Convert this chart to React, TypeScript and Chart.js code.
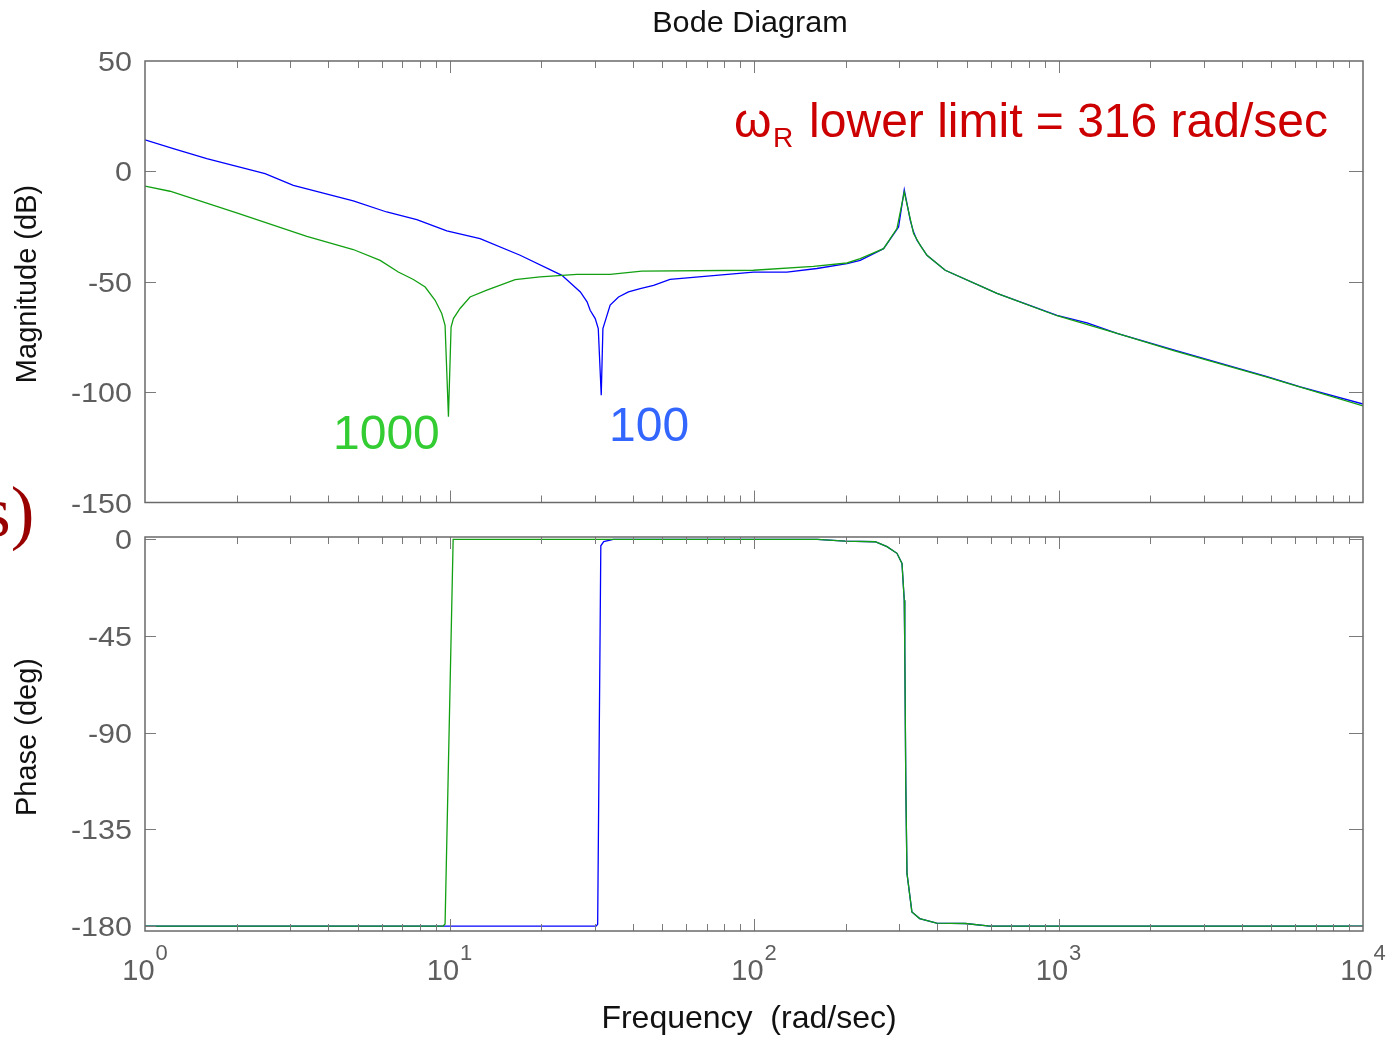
import React, { useEffect, useRef } from "react";
import { Chart, registerables } from "chart.js";

Chart.register(...registerables);

const W = 1395;
const H = 1037;
const FONT = '"Liberation Sans", Arial, Helvetica, sans-serif';
const BLUE = "#0000ff";
const GREEN = "#12a012";

// ---- Magnitude (dB) vs frequency (rad/sec) ----
const magFreq100 = [1, 1.239, 1.595, 2.479, 3.07, 4.83, 6.22, 7.81, 9.8, 12.6, 17.06, 23.4, 26.9, 28.3, 28.97, 30.1, 30.8, 31.5, 31.9, 33.7, 35.9, 38.7, 42.3, 46.8, 53.0, 99.6, 128.3, 160.9, 202, 223.3, 266.4, 298.4, 311.5, 326, 334.2, 342.9, 369.8, 424.6, 628, 988.6, 1241, 1557, 2388, 4840, 6223, 10000];
const mag100 = [14.3, 10.3, 5.8, -1.0, -6.3, -13.4, -18.4, -21.9, -27.0, -30.5, -38.0, -47.1, -54.6, -59.1, -62.9, -66.7, -71.2, -101.4, -71.2, -60.6, -56.9, -54.6, -53.1, -51.6, -48.9, -45.6, -45.6, -44.0, -41.8, -40.3, -35.0, -25.2, -8.3, -22.2, -27.5, -31.2, -38.0, -44.8, -55.3, -65.2, -68.6, -73.4, -80.9, -93.0, -97.6, -105.4];

const magFreq1000 = [1, 1.208, 2.0, 3.4, 4.83, 5.92, 6.79, 7.61, 8.32, 8.97, 9.43, 9.67, 9.92, 10.12, 10.3, 10.83, 11.68, 13.26, 16.43, 19.84, 26.2, 33.7, 42.8, 99.6, 156.8, 202, 223.3, 266.4, 294.7, 311.5, 334.2, 351.6, 369.8, 424.6, 628, 988.6, 1557, 2388, 4840, 10000];
const mag1000 = [-6.7, -9.0, -18.8, -29.4, -35.4, -40.3, -45.6, -49.0, -52.4, -58.4, -64.4, -69.7, -111.2, -70.5, -66.7, -62.1, -56.9, -53.8, -49.0, -47.8, -46.7, -46.7, -45.2, -44.8, -43.0, -41.5, -39.5, -35.0, -25.9, -9.4, -28.2, -33.5, -38.0, -44.8, -55.3, -65.4, -73.4, -81.2, -93.2, -106.2];

// ---- Phase (deg) vs frequency (rad/sec) ----
const phaseFreq100 = [1, 30.3, 30.66, 31.4, 32.1, 34.5, 161.3, 199.3, 250, 273.4, 294.8, 306.2, 311.5, 312.7, 315.2, 318, 330, 350, 398, 494, 595, 10000];
const phase100 = [-180, -180, -179.2, -3, -1, 0, 0, -0.8, -1.1, -3.4, -6.5, -11.2, -28.3, -50, -115, -155.5, -173.4, -176.5, -178.6, -178.8, -180, -180];

const phaseFreq1000 = [1, 9.53, 9.67, 10.28, 161.3, 199.3, 250, 273.4, 294.8, 306.2, 311.5, 312.7, 315.2, 318, 330, 350, 398, 494, 595, 10000];
const phase1000 = [-180, -180, -179, 0, 0, -0.8, -1.1, -3.4, -6.5, -11.2, -28.3, -50, -115, -155.5, -173.4, -176.5, -178.6, -178.8, -180, -180];

// ---- Axis ticks ----
const decades = [0, 1, 2, 3, 4];
const magTicks = [50, 0, -50, -100, -150];
const phaseTicks = [0, -45, -90, -135, -180];

const pts = (xs: number[], ys: number[]) => xs.map((x, i) => ({ x, y: ys[i] }));

function drawText(
  ctx: CanvasRenderingContext2D,
  s: string,
  x: number,
  y: number,
  size: number,
  color: string,
  align: CanvasTextAlign = "left",
  sx = 1
) {
  ctx.save();
  ctx.font = `${size}px ${FONT}`;
  ctx.fillStyle = color;
  ctx.textAlign = align;
  ctx.textBaseline = "alphabetic";
  ctx.translate(x, y);
  ctx.scale(sx, 1);
  ctx.fillText(s, 0, 0);
  ctx.restore();
}

function makeAxesPlugin(kind: "mag" | "phase") {
  return {
    id: "axes_" + kind,
    afterDatasetsDraw(chart: any) {
      const { ctx, chartArea: a, scales } = chart;
      const xs = scales.x;
      const ys = scales.y;
      ctx.save();
      // x ticks (top & bottom, inward)
      ctx.lineWidth = 1;
      ctx.strokeStyle = "#7a7a7a";
      ctx.beginPath();
      for (let d = 0; d < 4; d++) {
        for (let k = 1; k <= 9; k++) {
          if (d === 0 && k === 1) continue;
          const px = Math.round(xs.getPixelForValue(k * Math.pow(10, d))) + 0.5;
          const len = k === 1 ? 12 : 7;
          ctx.moveTo(px, a.top);
          ctx.lineTo(px, a.top + len);
          ctx.moveTo(px, a.bottom);
          ctx.lineTo(px, a.bottom - len);
        }
      }
      // y ticks (left & right, inward)
      const yt = kind === "mag" ? magTicks : phaseTicks;
      for (const v of yt) {
        const py = Math.round(ys.getPixelForValue(v)) + 0.5;
        if (Math.abs(py - a.top) < 1.5 || Math.abs(py - a.bottom) < 1.5) continue;
        ctx.moveTo(a.left, py);
        ctx.lineTo(a.left + 11, py);
        ctx.moveTo(a.right, py);
        ctx.lineTo(a.right - 14, py);
      }
      ctx.stroke();
      // frame
      ctx.lineWidth = 1.5;
      ctx.strokeStyle = "#6a6a6a";
      ctx.strokeRect(a.left, a.top, a.right - a.left, a.bottom - a.top);

      // y tick labels
      for (const v of yt) {
        const py = ys.getPixelForValue(v);
        drawText(ctx, String(v), 132, py + 10, 28, "#5e5e5e", "right", 1.09);
      }

      if (kind === "mag") {
        drawText(ctx, "Bode Diagram", 750, 32, 30, "#111111", "center", 1.02);
        ctx.save();
        ctx.translate(36, 284);
        ctx.rotate(-Math.PI / 2);
        drawText(ctx, "Magnitude (dB)", 0, 0, 29, "#111111", "center");
        ctx.restore();
        // annotations
        drawText(ctx, "\u03c9", 734, 137, 48, "#cc0000", "left");
        drawText(ctx, "R", 773, 147, 28, "#cc0000", "left");
        drawText(ctx, "lower limit = 316 rad/sec", 1328, 137, 48, "#cc0000", "right");
        drawText(ctx, "1000", 333, 449, 48, "#33cc33", "left");
        drawText(ctx, "100", 609, 441, 48, "#3366ff", "left");
      } else {
        ctx.save();
        ctx.translate(36, 737);
        ctx.rotate(-Math.PI / 2);
        drawText(ctx, "Phase (deg)", 0, 0, 29, "#111111", "center");
        ctx.restore();
        // x tick labels 10^n
        for (const d of decades) {
          const px = xs.getPixelForValue(Math.pow(10, d));
          ctx.font = `29px ${FONT}`;
          const w1 = ctx.measureText("10").width;
          ctx.font = `22px ${FONT}`;
          const w2 = ctx.measureText(String(d)).width;
          const start = px - (w1 + w2 + 1) / 2;
          drawText(ctx, "10", start, 980, 29, "#5e5e5e", "left");
          drawText(ctx, String(d), start + w1 + 1, 960, 22, "#5e5e5e", "left");
        }
        drawText(ctx, "Frequency  (rad/sec)", 749, 1028, 32, "#111111", "center");
      }
      ctx.restore();
    },
  };
}

function makeConfig(kind: "mag" | "phase"): any {
  const isMag = kind === "mag";
  return {
    type: "line",
    data: {
      datasets: [
        {
          label: "1000",
          data: isMag ? pts(magFreq1000, mag1000) : pts(phaseFreq1000, phase1000),
          borderColor: GREEN,
          borderWidth: 1.3,
          pointRadius: 0,
          tension: 0,
          fill: false,
        },
        {
          label: "100",
          data: isMag ? pts(magFreq100, mag100) : pts(phaseFreq100, phase100),
          borderColor: BLUE,
          borderWidth: 1.3,
          pointRadius: 0,
          tension: 0,
          fill: false,
        },
      ],
    },
    options: {
      responsive: false,
      animation: false,
      events: [],
      layout: {
        padding: isMag
          ? { left: 145, right: W - 1363, top: 61, bottom: H - 502.5 }
          : { left: 145, right: W - 1363, top: 537, bottom: H - 931 },
      },
      scales: {
        x: { type: "logarithmic", min: 1, max: 10000, display: false },
        y: isMag
          ? { type: "linear", min: -150, max: 50, display: false }
          : { type: "linear", min: -182.3, max: 1.1, display: false },
      },
      plugins: {
        legend: { display: false },
        tooltip: { enabled: false },
        title: { display: false },
      },
    },
    plugins: [makeAxesPlugin(kind)],
  };
}

export default function App() {
  const magRef = useRef<HTMLCanvasElement | null>(null);
  const phaseRef = useRef<HTMLCanvasElement | null>(null);

  useEffect(() => {
    const c1 = new Chart(magRef.current as HTMLCanvasElement, makeConfig("mag"));
    const c2 = new Chart(phaseRef.current as HTMLCanvasElement, makeConfig("phase"));
    return () => {
      c1.destroy();
      c2.destroy();
    };
  }, []);

  const canvasStyle: React.CSSProperties = { position: "absolute", left: 0, top: 0, width: W, height: H };

  return (
    <div style={{ position: "absolute", left: 0, top: 0, width: W, height: H, overflow: "hidden", background: "#ffffff" }}>
      <div
        style={{
          position: "absolute",
          left: -17,
          top: 477,
          fontFamily: '"Liberation Serif", "Times New Roman", serif',
          fontSize: 71,
          lineHeight: "71px",
          color: "#990000",
          whiteSpace: "nowrap",
        }}
      >
        s)
      </div>
      <canvas ref={magRef} width={W} height={H} style={canvasStyle} />
      <canvas ref={phaseRef} width={W} height={H} style={canvasStyle} />
    </div>
  );
}
